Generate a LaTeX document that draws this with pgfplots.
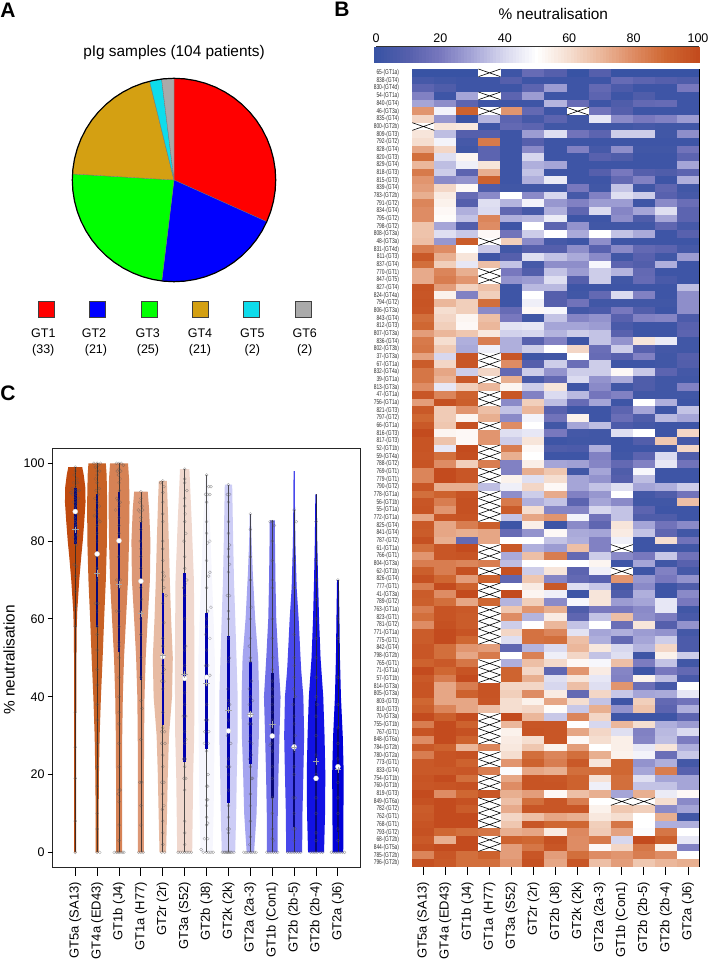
\documentclass[border=0pt]{standalone}
\usepackage{fontspec}
\setmainfont{Liberation Sans}
\newfontfamily\condfont[FakeStretch=0.70]{Liberation Sans}
\usepackage{pgfplots}
\usepackage{pgfplotstable}
\pgfplotsset{compat=1.18}
\usepgfplotslibrary{polar}

\pgfplotsset{colormap={nb}{
 rgb255(0pt)=(56,83,164) rgb255(10pt)=(85,95,172) rgb255(20pt)=(120,120,190) rgb255(30pt)=(165,165,215)
 rgb255(40pt)=(215,215,238) rgb255(50pt)=(255,255,255) rgb255(60pt)=(245,222,208) rgb255(70pt)=(235,183,155)
 rgb255(80pt)=(222,140,100) rgb255(90pt)=(207,103,50) rgb255(100pt)=(195,75,30)}}

\pgfdeclareplotmark{heatcell}{\pgfpathrectangle{\pgfpoint{-11.2pt}{-4pt}}{\pgfpoint{22.4pt}{8pt}}\pgfusepathqfill}
\pgfdeclareplotmark{barcell}{\pgfpathrectangle{\pgfpoint{-1.9pt}{-8pt}}{\pgfpoint{3.8pt}{16pt}}\pgfusepathqfill}
\pgfdeclareplotmark{nacell}{%
 \pgfpathrectangle{\pgfpoint{-11.03pt}{-3.83pt}}{\pgfpoint{22.06pt}{7.66pt}}\pgfsetfillcolor{white}\pgfusepathqfill
 \pgfsetstrokecolor{black}\pgfsetlinewidth{.6pt}
 \pgfpathmoveto{\pgfpoint{-11.03pt}{-3.83pt}}\pgfpathlineto{\pgfpoint{11.03pt}{3.83pt}}
 \pgfpathmoveto{\pgfpoint{-11.03pt}{3.83pt}}\pgfpathlineto{\pgfpoint{11.03pt}{-3.83pt}}\pgfusepathqstroke}

\definecolor{vA}{RGB}{192,74,14}
\definecolor{vB}{RGB}{200,98,38}
\definecolor{vC}{RGB}{214,130,85}
\definecolor{vD}{RGB}{221,152,118}
\definecolor{vE}{RGB}{231,187,163}
\definecolor{vF}{RGB}{240,216,206}
\definecolor{vG}{RGB}{246,246,253}
\definecolor{vH}{RGB}{205,205,246}
\definecolor{vI}{RGB}{165,165,240}
\definecolor{vJ}{RGB}{112,112,232}
\definecolor{vK}{RGB}{72,72,235}
\definecolor{vL}{RGB}{18,18,228}
\definecolor{vM}{RGB}{0,0,215}
\definecolor{barO}{RGB}{8,8,120}
\definecolor{barB}{RGB}{0,0,175}
\definecolor{pieY}{RGB}{212,160,18}
\definecolor{pieC}{RGB}{14,220,235}
\definecolor{pieG}{RGB}{170,170,170}

\pgfplotstableread[row sep=crcr]{y w\\0 0\\0 1\\36 1\\50 1.2\\58 1.5\\62 2\\70 4\\76 6\\80 7.5\\85 9\\90 10.3\\94 10\\97 8.5\\99 7\\99 0\\}\vtA
\pgfplotstableread[row sep=crcr]{y w\\0 0\\0 1.5\\10 1.5\\20 1.8\\30 2.5\\40 3.8\\50 5.5\\60 7\\70 8.7\\80 9.8\\90 10\\97 9.5\\100 8.7\\100 0\\}\vtB
\pgfplotstableread[row sep=crcr]{y w\\0 0\\0 3\\10 3\\20 3\\30 3.2\\40 3.8\\50 5\\60 7\\70 9\\80 10\\90 10.5\\96 10\\100 9\\100 0\\}\vtC
\pgfplotstableread[row sep=crcr]{y w\\0 0\\0 3\\10 3\\20 3\\30 3.2\\40 3.6\\50 4.8\\60 6.8\\70 9\\80 9.5\\88 8.2\\92.7 6.8\\92.7 0\\}\vtD
\pgfplotstableread[row sep=crcr]{y w\\0 0\\0 3.3\\10 4.2\\20 5\\30 6.2\\40 9.2\\50 10\\60 8.3\\70 7\\80 6\\90 4.8\\95.5 4\\95.5 0\\}\vtE
\pgfplotstableread[row sep=crcr]{y w\\0 0\\0 7.5\\10 8\\20 8.5\\30 9.5\\40 9.7\\50 9.8\\60 9.5\\70 9.2\\85 7\\92 5.8\\98.5 4.7\\98.5 0\\}\vtF
\pgfplotstableread[row sep=crcr]{y w\\0 0\\0 6\\10 7\\20 7.5\\30 8\\40 8.3\\50 8.2\\60 7\\70 5.5\\80 4\\90 2.5\\97 1\\97 0\\}\vtG
\pgfplotstableread[row sep=crcr]{y w\\0 0\\0 6.7\\10 7.7\\20 8.3\\30 9.2\\40 9.2\\50 8\\60 6.8\\70 5.5\\80 4.7\\90 4\\94.5 3.7\\94.5 0\\}\vtH
\pgfplotstableread[row sep=crcr]{y w\\0 0\\0 3.7\\5 5\\10 6.2\\20 7.2\\30 8.5\\40 8.8\\50 7.8\\60 4.8\\72 2.4\\80 1.2\\87 .6\\87 0\\}\vtI
\pgfplotstableread[row sep=crcr]{y w\\0 0\\0 5.3\\10 5.5\\20 6.2\\30 7.2\\40 8.3\\50 6\\60 4\\70 3.2\\80 2.7\\85.3 2.5\\85.3 0\\}\vtJ
\pgfplotstableread[row sep=crcr]{y w\\0 0\\0 8\\10 8.3\\20 9.2\\30 10\\40 9.2\\47 7\\51 6.2\\60 4.5\\68 2.5\\80 1.2\\90 .8\\98 .6\\98 0\\}\vtK
\pgfplotstableread[row sep=crcr]{y w\\0 0\\0 8\\10 9\\20 9.3\\30 8.5\\40 7.2\\50 4.5\\60 3\\70 2\\80 1.2\\92 .7\\92 0\\}\vtL
\pgfplotstableread[row sep=crcr]{y w\\0 0\\0 5.3\\10 5.5\\20 5.8\\30 4.8\\40 3\\50 2\\60 1.5\\70 .9\\70 0\\}\vtM

\newcommand\violin[3]{%
 \addplot[fill=#2,draw=none,forget plot] table[x expr=#1+\thisrow{w}/21.9,y=y]{#3} -- cycle;
 \addplot[fill=#2,draw=none,forget plot] table[x expr=#1-\thisrow{w}/21.9,y=y]{#3} -- cycle;}

\pgfplotstableread{
label c0 c1 c2 c3 c4 c5 c6 c7 c8 c9 c10 c11 c12
65-(GT1a) 0 0 0 50 2 15 10 0 10 0 0 0 0
838-(GT4) 5 3 2 2 10 2 2 2 2 15 12 10 8
830-(GT4d) 12 8 2 2 2 12 28 2 14 7 2 2 20
54-(GT1a) 22 2 30 50 12 28 2 2 12 2 8 2 2
840-(GT4) 30 25 12 2 2 2 33 15 2 8 14 15 2
46-(GT3a) 78 47 92 50 78 14 2 50 18 10 2 2 2
835-(GT4) 62 27 1 33 12 5 12 3 44 24 20 22 28
800-(GT2b) 50 58 57 2 14 12 3 3 3 3 5 3 3
809-(GT3) 58 35 10 10 2 28 42 18 12 38 38 3 25
792-(GT2) 60 47 5 85 2 10 2 2 2 2 2 2 2
828-(GT4) 74 62 3 12 2 24 2 22 5 25 3 3 18
820-(GT3) 88 42 53 12 2 40 2 2 11 8 2 2 12
829-(GT4) 70 35 46 58 2 32 30 2 2 2 2 2 30
818-(GT3) 85 38 12 72 2 36 2 2 10 20 10 8 12
815-(GT3) 78 24 26 92 2 32 45 2 2 14 22 2 32
839-(GT4) 76 62 52 8 3 3 3 20 3 36 3 13 3
783-(GT2b) 72 56 15 24 50 24 40 5 22 42 38 11 5
791-(GT2) 82 54 10 42 33 47 27 22 28 28 2 24 16
834-(GT4) 80 52 32 41 13 5 32 13 41 23 30 42 12
795-(GT2) 80 51 36 82 32 34 45 2 2 25 8 30 12
798-(GT2) 67 30 9 80 2 50 12 26 3 3 3 13 5
808-(GT3a) 67 42 37 52 18 38 50 31 50 36 31 2 11
48-(GT3a) 68 27 94 50 64 24 5 2 25 2 2 2 2
831-(GT4d) 84 80 50 37 3 10 10 25 11 24 14 12 5
811-(GT3) 95 72 58 2 10 42 36 31 24 3 11 3 28
837-(GT4) 88 64 44 68 36 5 25 25 48 12 9 32 2
770-(GT1) 73 82 72 50 20 9 36 28 38 33 14 2 2
847-(GT5) 73 84 78 50 26 28 42 10 38 3 15 6 2
827-(GT4) 97 76 63 68 2 34 34 2 2 2 2 2 35
824-(GT4a) 96 54 22 64 2 50 10 3 14 41 22 2 25
794-(GT2) 97 70 64 88 2 46 10 18 3 3 3 3 25
806-(GT3a) 96 60 64 24 15 52 48 4 7 20 9 2 25
843-(GT4) 88 62 53 68 20 3 36 23 26 11 22 23 7
812-(GT3) 90 64 52 70 43 44 30 30 28 6 2 2 11
807-(GT3a) 76 70 66 57 39 40 33 38 36 11 2 2 12
836-(GT4) 85 60 32 84 32 11 22 2 36 26 58 45 3
802-(GT3b) 86 65 31 46 32 38 50 62 16 38 11 4 3
37-(GT3a) 75 40 96 50 96 2 3 50 15 11 22 3 10
67-(GT1a) 94 62 96 50 80 10 38 16 38 2 2 3 9
832-(GT4a) 86 74 38 62 14 38 26 38 38 52 37 12 4
39-(GT1a) 86 71 95 50 72 6 14 41 26 31 8 3 3
813-(GT3a) 80 44 64 70 53 38 58 2 24 3 8 3 22
47-(GT1a) 96 82 92 50 96 22 41 34 19 22 3 3 3
756-(GT1a) 76 98 93 50 24 64 35 15 30 2 50 32 2
821-(GT3) 95 65 78 68 36 70 11 2 2 12 30 2 36
797-(GT2) 90 65 53 72 24 47 18 54 2 16 8 34 30
66-(GT1a) 95 66 98 50 80 50 3 30 35 7 4 2 2
816-(GT3) 100 53 52 78 42 44 20 4 3 42 50 2 62
817-(GT3) 97 67 52 78 38 58 2 3 3 2 9 66 5
52-(GT1b) 97 44 100 50 84 52 8 7 32 2 2 2 62
59-(GT4a) 96 88 99 50 72 50 2 2 22 3 12 41 8
788-(GT2) 97 80 64 84 22 55 30 29 23 14 22 44 18
769-(GT1) 82 100 96 50 22 72 66 3 30 8 48 2 2
779-(GT1) 82 100 96 50 54 42 60 30 26 10 35 2 2
790-(GT2) 96 72 72 35 46 62 52 30 36 42 30 32 38
778-(GT1a) 88 92 97 50 25 38 73 22 27 50 4 8 18
56-(GT1b) 96 84 98 50 85 32 36 12 30 24 3 3 68
55-(GT1a) 97 78 98 50 94 60 23 23 40 36 12 2 2
772-(GT1a) 74 96 97 50 36 74 78 47 18 36 8 8 2
825-(GT4) 95 74 84 93 2 55 2 24 13 58 30 18 24
841-(GT4) 94 74 72 74 15 26 52 31 30 56 36 13 3
787-(GT2) 98 72 14 74 50 50 36 32 22 46 2 60 18
61-(GT1a) 88 96 100 50 95 32 28 68 22 50 2 2 3
766-(GT1) 78 96 97 50 31 68 84 14 38 24 20 37 18
804-(GT3a) 84 84 82 84 35 50 50 50 53 2 30 3 11
62-(GT1b) 93 84 98 50 98 38 58 12 46 50 2 22 5
826-(GT4) 98 90 76 92 13 66 23 14 11 78 27 20 26
777-(GT1) 84 100 92 50 50 56 95 42 37 4 24 2 8
41-(GT3a) 94 80 100 50 100 53 46 2 58 8 32 2 24
789-(GT2) 93 88 74 90 33 64 24 48 58 28 30 44 20
763-(GT1a) 84 97 95 50 66 78 72 8 20 20 24 44 3
823-(GT1) 88 97 94 50 80 33 56 13 36 68 25 21 6
781-(GT2) 80 98 94 50 38 50 70 36 50 16 58 10 26
771-(GT1a) 94 100 97 50 62 87 82 43 30 32 28 26 4
775-(GT1) 94 100 90 50 42 87 88 68 32 14 30 38 7
842-(GT4) 96 88 78 76 13 33 41 70 57 40 33 62 7
798-(GT2b) 96 88 74 85 50 83 46 62 36 42 2 54 38
765-(GT1) 92 95 86 50 32 68 61 52 48 68 21 36 3
71-(GT1a) 100 90 97 50 91 62 13 78 56 23 2 20 14
57-(GT1b) 95 84 100 50 91 72 42 58 44 22 54 35 6
814-(GT3a) 97 74 84 97 62 62 40 68 42 78 16 5 50
805-(GT3a) 97 74 92 97 64 80 56 14 62 37 30 31 44
803-(GT3) 90 74 74 96 60 54 74 60 36 2 64 14 18
810-(GT3) 93 82 74 68 60 62 51 37 72 26 67 12 32
70-(GT3a) 100 93 100 50 100 70 37 82 62 2 2 2 12
755-(GT1b) 84 100 92 50 70 96 96 50 40 70 60 32 28
767-(GT1) 97 100 98 50 54 97 96 74 62 42 22 34 41
848-(GT6a) 80 100 92 50 56 60 96 52 60 55 23 35 21
784-(GT2b) 95 92 70 82 57 66 54 76 50 55 44 58 32
780-(GT2a) 84 97 98 50 60 88 82 88 72 54 47 16 37
773-(GT1) 95 97 92 50 78 92 84 95 58 90 26 32 4
833-(GT4) 95 95 96 84 49 74 72 88 88 90 30 84 11
754-(GT1b) 97 100 88 50 74 97 96 92 59 88 42 30 30
760-(GT1b) 96 97 98 50 80 97 97 92 46 88 36 36 30
819-(GT3) 100 80 90 96 72 76 52 68 72 30 72 45 52
849-(GT6a) 98 100 98 50 68 88 96 84 50 50 50 60 24
782-(GT2) 94 100 94 50 73 96 96 96 54 66 64 24 30
762-(GT1) 95 100 100 50 62 68 74 72 57 60 50 72 3
768-(GT1) 97 100 100 50 66 96 90 90 64 86 50 32 32
793-(GT2) 98 90 88 86 72 74 56 81 65 75 49 86 50
68-(GT2b) 95 72 100 50 92 90 98 80 85 40 100 93 44
844-(GT5a) 98 100 100 50 76 86 96 80 52 62 86 54 22
785-(GT2b) 82 96 88 92 76 96 76 88 80 78 84 80 50
796-(GT2b) 98 95 88 88 78 98 74 96 68 76 66 70 72
}\heat

\begin{document}
\begin{tikzpicture}
\useasboundingbox (0,0) rectangle (708pt,959pt);
\def\Fs{\fontsize{12.5}{14}\selectfont}
\def\Fr{\fontsize{13}{14}\selectfont}

% Panel letters and free text
\node[font=\bfseries\fontsize{21}{21}\selectfont] at (8pt,949pt) {A};
\node[font=\bfseries\fontsize{21}{21}\selectfont] at (342pt,950pt) {B};
\node[font=\bfseries\fontsize{21}{21}\selectfont] at (8pt,566pt) {C};
\node[font=\fontsize{15.4}{16}\selectfont] at (174pt,906.7pt) {pIg samples (104 patients)};
\node[font=\fontsize{15.4}{16}\selectfont] at (553.3pt,945pt) {\% neutralisation};
\node[font=\fontsize{15.4}{16}\selectfont,rotate=90] at (9pt,299pt) {\% neutralisation};

% A: pie
\begin{axis}[at={(72.3pt,677.3pt)},anchor=south west,scale only axis,width=203.4pt,height=203.4pt,
  hide axis,xmin=-1,xmax=1,ymin=-1,ymax=1,clip=false]
\addplot[data cs=polar,fill=red,draw=black!55,line width=.3pt] coordinates {(0,0)(90,1)(84,1)(78,1)(72,1)(66,1)(60,1)(54,1)(48,1)(42,1)(36,1)(30,1)(24,1)(18,1)(12,1)(6,1)(0,1)(-6,1)(-12,1)(-18,1)(-24.2,1)} -- cycle;
\addplot[data cs=polar,fill=blue,draw=black!55,line width=.3pt] coordinates {(0,0)(-24.2,1)(-30,1)(-36,1)(-42,1)(-48,1)(-54,1)(-60,1)(-66,1)(-72,1)(-78,1)(-84,1)(-90,1)(-96.9,1)} -- cycle;
\addplot[data cs=polar,fill=green,draw=black!55,line width=.3pt] coordinates {(0,0)(-96.9,1)(-102,1)(-108,1)(-114,1)(-120,1)(-126,1)(-132,1)(-138,1)(-144,1)(-150,1)(-156,1)(-162,1)(-168,1)(-174,1)(-180,1)(-183.4,1)} -- cycle;
\addplot[data cs=polar,fill=pieY,draw=black!55,line width=.3pt] coordinates {(0,0)(-183.4,1)(-186,1)(-192,1)(-198,1)(-204,1)(-210,1)(-216,1)(-222,1)(-228,1)(-234,1)(-240,1)(-246,1)(-252,1)(-256.1,1)} -- cycle;
\addplot[data cs=polar,fill=pieC,draw=black!55,line width=.3pt] coordinates {(0,0)(-256.1,1)(-260,1)(-263,1)} -- cycle;
\addplot[data cs=polar,fill=pieG,draw=black!55,line width=.3pt] coordinates {(0,0)(-263,1)(-267,1)(-270,1)} -- cycle;
\addplot[data cs=polar,draw=black,line width=1.2pt] coordinates {(90,1)(84,1)(78,1)(72,1)(66,1)(60,1)(54,1)(48,1)(42,1)(36,1)(30,1)(24,1)(18,1)(12,1)(6,1)(0,1)(-6,1)(-12,1)(-18,1)(-24,1)(-30,1)(-36,1)(-42,1)(-48,1)(-54,1)(-60,1)(-66,1)(-72,1)(-78,1)(-84,1)(-90,1)(-96,1)(-102,1)(-108,1)(-114,1)(-120,1)(-126,1)(-132,1)(-138,1)(-144,1)(-150,1)(-156,1)(-162,1)(-168,1)(-174,1)(-180,1)(-186,1)(-192,1)(-198,1)(-204,1)(-210,1)(-216,1)(-222,1)(-228,1)(-234,1)(-240,1)(-246,1)(-252,1)(-258,1)(-264,1)(-270,1)};
\end{axis}

% A: legend keys
\begin{axis}[at={(0pt,640pt)},anchor=south west,scale only axis,width=359.8pt,height=20pt,
  hide axis,xmin=0,xmax=7,ymin=0,ymax=1,clip=false]
\addplot[only marks,mark=square*,mark size=8pt,mark options={fill=red,draw=black!75,line width=.8pt}] coordinates {(0.9,.5)};
\addplot[only marks,mark=square*,mark size=8pt,mark options={fill=blue,draw=black!75,line width=.8pt}] coordinates {(1.9,.5)};
\addplot[only marks,mark=square*,mark size=8pt,mark options={fill=green,draw=black!75,line width=.8pt}] coordinates {(2.9,.5)};
\addplot[only marks,mark=square*,mark size=8pt,mark options={fill=pieY,draw=black!75,line width=.8pt}] coordinates {(3.9,.5)};
\addplot[only marks,mark=square*,mark size=8pt,mark options={fill=pieC,draw=black!75,line width=.8pt}] coordinates {(4.9,.5)};
\addplot[only marks,mark=square*,mark size=8pt,mark options={fill=pieG,draw=black!75,line width=.8pt}] coordinates {(5.9,.5)};
\end{axis}
\foreach \x/\a/\b/\xb in {43.3/GT1/(33)/43.3,94/GT2/(21)/96,147.7/GT3/(25)/148,200/GT4/(21)/200,252.3/GT5/(2)/252.3,304.7/GT6/(2)/304.7}{
 \node[font=\Fs] at (\x pt,626pt) {\a};
 \node[font=\Fs] at (\xb pt,609pt) {\b};
}

% B: colour bar
\begin{axis}[at={(376pt,896.3pt)},anchor=south west,scale only axis,width=322pt,height=16pt,
  xmin=0,xmax=100,ymin=0,ymax=1,ytick=\empty,colormap name=nb,point meta min=0,point meta max=100,
  xtick={0,20,40,60,80,100},xtick pos=both,xticklabel pos=upper,tick align=inside,major tick length=4pt,
  xtick style={black,line width=.9pt},axis line style={black!80,line width=.9pt},axis on top,
  /pgf/number format/assume math mode=true,tick label style={font=\Fs,inner sep=1pt},xticklabel shift=2.5pt]
\addplot[scatter,only marks,mark=barcell,point meta=x,scatter/use mapped color={draw=none,fill=mapped color}] coordinates {(0,.5)(1,.5)(2,.5)(3,.5)(4,.5)(5,.5)(6,.5)(7,.5)(8,.5)(9,.5)(10,.5)(11,.5)(12,.5)(13,.5)(14,.5)(15,.5)(16,.5)(17,.5)(18,.5)(19,.5)(20,.5)(21,.5)(22,.5)(23,.5)(24,.5)(25,.5)(26,.5)(27,.5)(28,.5)(29,.5)(30,.5)(31,.5)(32,.5)(33,.5)(34,.5)(35,.5)(36,.5)(37,.5)(38,.5)(39,.5)(40,.5)(41,.5)(42,.5)(43,.5)(44,.5)(45,.5)(46,.5)(47,.5)(48,.5)(49,.5)(50,.5)(51,.5)(52,.5)(53,.5)(54,.5)(55,.5)(56,.5)(57,.5)(58,.5)(59,.5)(60,.5)(61,.5)(62,.5)(63,.5)(64,.5)(65,.5)(66,.5)(67,.5)(68,.5)(69,.5)(70,.5)(71,.5)(72,.5)(73,.5)(74,.5)(75,.5)(76,.5)(77,.5)(78,.5)(79,.5)(80,.5)(81,.5)(82,.5)(83,.5)(84,.5)(85,.5)(86,.5)(87,.5)(88,.5)(89,.5)(90,.5)(91,.5)(92,.5)(93,.5)(94,.5)(95,.5)(96,.5)(97,.5)(98,.5)(99,.5)(100,.5)};
\end{axis}

% B: heat map
\begin{axis}[at={(412.3pt,92.3pt)},anchor=south west,scale only axis,width=286.7pt,height=797.7pt,
  xmin=-.5,xmax=12.5,ymin=-.5,ymax=103.5,y dir=reverse,colormap name=nb,point meta min=0,point meta max=100,
  axis on top,axis line style={black,line width=1pt},
  xtick={0,...,12},xticklabels={GT5a (SA13),GT4a (ED43),GT1b (J4),GT1a (H77),GT3a (S52),GT2r (2r),GT2b (J8),GT2k (2k),GT2a (2a-3),GT1b (Con1),GT2b (2b-5),GT2b (2b-4),GT2a (J6)},
  xtick pos=lower,tick align=outside,
  xticklabel style={rotate=90,anchor=east,font=\Fr,inner sep=0pt},xticklabel shift=7pt,
  ytick={0,...,103},yticklabels from table={\heat}{label},ytick pos=left,
  yticklabel style={font=\condfont\fontsize{7}{7}\selectfont,inner sep=0pt,text=black!80},yticklabel shift=5pt,
  major tick length=8pt,xtick style={black,line width=.9pt},ytick style={draw=none}]
\pgfplotsinvokeforeach{0,...,12}{
 \addplot[scatter,only marks,mark=heatcell,point meta=explicit,scatter/use mapped color={draw=none,fill=mapped color}]
   table[x expr=#1,y expr=\coordindex,meta=c#1]{\heat};
}
\addplot[only marks,mark=nacell] coordinates {(3,0)(3,3)(3,5)(3,22)(3,26)(3,27)(3,37)(3,38)(3,40)(3,42)(3,43)(3,46)(3,49)(3,50)(3,52)(3,53)(3,55)(3,56)(3,57)(3,58)(3,62)(3,63)(3,65)(3,67)(3,68)(3,70)(3,71)(3,72)(3,73)(3,74)(3,77)(3,78)(3,79)(3,84)(3,85)(3,86)(3,87)(3,89)(3,90)(3,92)(3,93)(3,95)(3,96)(3,97)(3,98)(3,100)(3,101)(7,5)(0,7)(9,62)(9,65)(9,95)(10,95)};
\end{axis}

% C: violins
\begin{axis}[at={(52.7pt,91.3pt)},anchor=south west,scale only axis,width=308pt,height=419.4pt,
  xmin=-.03,xmax=14.04,ymin=-3.96,ymax=103.86,clip=false,
  axis line style={black!85,line width=1pt},
  xtick={1,...,13},xticklabels={GT5a (SA13),GT4a (ED43),GT1b (J4),GT1a (H77),GT2r (2r),GT3a (S52),GT2b (J8),GT2k (2k),GT2a (2a-3),GT1b (Con1),GT2b (2b-5),GT2b (2b-4),GT2a (J6)},
  xtick pos=lower,tick align=outside,ytick=\empty,
  xticklabel style={rotate=90,anchor=east,font=\Fr,inner sep=0pt},xticklabel shift=6pt,
  major tick length=8pt,xtick style={black,line width=.9pt},every axis plot/.append style={forget plot}]
\violin{1}{vA}{\vtA}\violin{2}{vB}{\vtB}\violin{3}{vC}{\vtC}\violin{4}{vD}{\vtD}\violin{5}{vE}{\vtE}
\violin{6}{vF}{\vtF}\violin{7}{vG}{\vtG}\violin{8}{vH}{\vtH}\violin{9}{vI}{\vtI}\violin{10}{vJ}{\vtJ}
\violin{11}{vK}{\vtK}\violin{12}{vL}{\vtL}\violin{13}{vM}{\vtM}
% whiskers
\pgfplotsset{whisk/.style={black!85,line width=.7pt,opacity=.8}}
\addplot[whisk] coordinates {(1,0)(1,99)};\addplot[whisk] coordinates {(2,0)(2,100)};\addplot[whisk] coordinates {(3,0)(3,100)};
\addplot[whisk] coordinates {(4,0)(4,92.7)};\addplot[whisk] coordinates {(5,0)(5,95.5)};\addplot[whisk] coordinates {(6,0)(6,98.5)};
\addplot[whisk] coordinates {(7,0)(7,97)};\addplot[whisk] coordinates {(8,0)(8,94.5)};\addplot[whisk] coordinates {(9,0)(9,87)};
\addplot[whisk] coordinates {(10,0)(10,85.3)};\addplot[whisk] coordinates {(11,0)(11,88)};\addplot[whisk] coordinates {(12,0)(12,92)};\addplot[whisk] coordinates {(13,0)(13,70)};
% interquartile bars
\pgfplotsset{iqrO/.style={barO,line width=2.6pt},iqrB/.style={barB,line width=2.6pt}}
\addplot[iqrO] coordinates {(1,79.3)(1,93.6)};\addplot[iqrO] coordinates {(2,57.8)(2,92.1)};\addplot[iqrO] coordinates {(3,51.6)(3,92.7)};
\addplot[iqrO] coordinates {(4,44.3)(4,85)};\addplot[iqrB] coordinates {(5,32.7)(5,66.6)};\addplot[iqrB] coordinates {(6,23.3)(6,71.7)};
\addplot[iqrB] coordinates {(7,26.5)(7,61.6)};\addplot[iqrB] coordinates {(8,12.8)(8,55.6)};\addplot[iqrB] coordinates {(9,22.7)(9,49)};
\addplot[iqrO] coordinates {(10,13.9)(10,46)};\addplot[iqrO] coordinates {(11,6.6)(11,39.6)};\addplot[iqrO] coordinates {(12,0)(12,39)};\addplot[iqrO] coordinates {(13,5.3)(13,32)};
% individual sera
\addplot[only marks,mark=o,mark size=1.5pt,mark options={draw=black!65,line width=.3pt,opacity=.6}] coordinates {
(1,99)(1,98)(.95,97)(1.08,96)(.92,95)(1.1,95)(1,94)(.85,93.5)(.93,93)(1.08,93)(1.18,93)(.8,92.5)(.88,92)(1.05,92)(1.15,91)(.98,91)(.92,90)(1.08,90)(1,89)(1,88)(1.1,87)(.95,86)(1,85)(1.05,84)(.98,83)(1.1,81.5)(.92,81)(1,80)(1.05,79)(.95,74)(1.05,73.5)(1,71)(1,67)(1,63)(1,58)(1,36)(1,27)(1,19)(1,8)(1,0)
(2,100)(1.85,100)(2.15,100)(2.05,99.5)(1.92,99)(2,98)(2.12,98)(2,97)(1.92,96)(2,95)(2.1,93.5)(1.95,93)(2.05,92)(1.9,91)(2,90)(2.1,89)(1.95,88)(2,87)(1.87,86.5)(2.05,85.5)(2.13,85)(2,84)(2,82)(2,80)(2.03,77)(1.97,76)(2,73)(2,70)(1.92,64)(2.05,64)(2,62)(2,58)(2,56)(2,52)(2,47)(2,43)(2,38)(2,34)(2,28)(2,22)(2,17)(2,10)(2,6)(2,0)(2.12,0)
(3,100)(2.88,100)(3.1,100)(3.2,99.5)(3,98.5)(2.92,98)(3.08,98)(2.97,97)(3.05,96)(3,95)(3.02,93)(2.9,91)(2.96,90.5)(3.05,90)(3,89)(2.85,88)(3,86)(3,84)(3,82)(3,80)(2.98,76)(2.9,70)(3.05,70)(3,68)(2.88,62)(3,62)(3,58)(3,54)(3,53)(3,50)(3,45)(3,40)(3,36)(3,33)(3,28)(3,22)(3,16)(3.05,16)(2.97,15)(3,13)(3,7)(3,3)(2.78,0)(2.88,0)(2.96,0)(3.04,0)(3.14,0)(3.22,0)
(4,92.7)(4,91)(3.95,90)(4.05,89)(4,86)(3.88,88)(3.96,87.5)(4.08,88)(4,85)(4,83)(3.97,80)(4,78)(4,76)(4,73)(4,70)(4,68)(4.03,65)(4,62)(4,60)(4,56)(4,50)(4,45)(4,39)(4.05,37)(4,29)(3.95,18)(4.03,18)(4,12)(4,7)(3.9,0)(4,0)(4.1,0)
(5,95.5)(4.9,95)(5.05,94)(5,92.5)(5,90)(5,87)(5,85)(5,80)(5,78)(5,75)(5,72)(5.07,71)(5,70)(5.05,68)(5.15,66)(5,64)(5.05,59)(5,55)(5,53)(5,50)(5,48)(5.06,47)(5,46)(4.95,44)(5.05,44)(5,42)(5,36)(5,32)(4.95,31)(5.08,31)(4.95,28)(5.1,28)(5,25)(5,22)(4.95,18)(5.05,18)(5,15)(5.05,12)(4.98,11)(5,8)(5,5)(5,2)(4.95,0)(5.08,0)
(6,98.5)(6,96)(6,95)(6.1,93)(6,91)(6,89)(6.02,87)(6,85)(6.05,82)(5.97,80)(6,76)(6,73)(6.1,70)(6.02,69)(5.95,68)(6,66)(6,60)(6.05,53)(6,52)(6,48)(6,46)(6,41)(6,38)(5.93,35)(6.05,35)(6,31)(6.05,29)(6,28)(5.95,24)(6.02,24)(6,22)(6.05,19)(5.97,19)(6,16)(6,8)(6,5)(6,2)(6,0)(5.7,0)(5.8,0)(5.9,0)(6.1,0)(6.2,0)(6.3,0)
(7,97)(7.1,94)(7.2,94)(7.15,92)(6.95,92)(7.05,92)(7,90)(7,85)(7,82)(7.15,80)(7.05,79.5)(7,75)(7.15,72)(7.1,71)(7,68)(7.2,63)(7.05,62)(7,60)(7,58)(6.95,56)(7.15,55)(7,52)(7.05,48)(6.95,48)(7.05,45)(7.15,45.5)(7,43)(7,38)(6.95,34)(7.05,34)(6.92,31)(7.1,31)(6.9,28)(7.07,28)(7,26)(7.07,20)(7,17)(7.05,17)(7,13.5)(7.05,13.5)(7,12)(7,9)(7.05,7.5)(7,7)(6.9,3.5)(7.05,3.5)(6.75,.7)(6.85,0)(7,0)(7.1,0)(7.2,0)(7.3,0)
(8,94.5)(7.95,92)(8.05,92)(8,90)(8,85)(8,82)(8.05,79)(8,78)(8,76)(8.05,74)(8,72)(7.95,66)(8.05,66)(8,62)(8,60)(8,55)(8.05,50)(8,49)(7.97,42)(8,39)(8.05,38)(8,36.5)(8,34)(8.03,31)(7.95,30)(8.1,28)(8,24)(7.95,22)(8.05,22)(8,20)(8,16)(8,12)(8,9)(7.97,6)(8.03,6)(8,5)(8,0)(7.72,0)(7.8,0)(7.85,0)(7.9,0)(7.95,0)(8.05,0)(8.1,0)(8.15,0)(8.25,0)
(9,87)(9,83)(9,76)(9,70)(9.03,63)(9,60)(9,55)(8.95,53)(9,50)(9,49)(9.05,44)(8.95,42)(9,40)(9.1,39)(8.95,38)(9,36)(9.05,33)(8.95,33)(9,30)(8.97,28.5)(9.07,28)(9,26)(9.05,25)(8.95,24)(9,22)(9.1,19)(9.05,19)(9,15)(9,12)(9,8)(9,4)(8.97,2)(8.7,0)(8.8,0)(8.9,0)(9,0)(9.08,0)(9.18,0)(9.26,0)
(10,85)(9.9,85)(10.1,84)(10,80)(10,75)(10,70)(10,68)(10,60)(10,55)(10.03,50)(10,47)(10,44)(10,42)(10,40)(10,38)(10,36)(10,34)(9.97,32)(10.03,30)(9.95,28)(9.9,27.5)(10,26)(10,22)(10,19)(10,14)(10,10)(10,6)(10,3.5)(10.05,3)(9.75,0)(9.85,0)(9.95,0)(10.05,0)(10.15,0)(10.25,0)
(11,88)(11.1,85)(11,75)(11,68)(11,62)(11,56)(11,50)(11,48)(11,45)(10.98,42)(11.05,40)(10.95,38)(11,35)(11,33)(11.05,30)(11,28)(11,26)(11,22)(11,20)(10.95,14)(11.05,14)(11,10)(10.95,6)(11.05,6)(11,3)(10.7,0)(10.8,0)(10.9,0)(11,0)(11.1,0)(11.2,0)(11.3,0)
(12,85)(12,75)(12,70)(12,65)(12,60)(12,55)(12,50)(12,45)(12,40)(12.05,38)(12,35)(12,30)(12,25)(12,20)(12,14)(12,10)(12,5)(12,3)(11.75,0)(11.85,0)(11.95,0)(12.05,0)(12.2,0)(12.3,0)
(13,70)(13,60)(13,55)(13,45)(13,38)(13,32)(13,28)(13,24)(13,22)(13,18)(13,14)(13,10)(13,6)(13,3)(12.7,0)(12.8,0)(12.9,0)(13,0)(13.1,0)(13.2,0)(13.3,0)};
% medians
\addplot[only marks,mark=*,mark size=2.5pt,mark options={fill=white,draw=white!85!black,line width=.3pt}] coordinates {(1,87.6)(2,76.7)(3,80.1)(4,69.7)(5,50.3)(6,44.7)(7,45)(8,31.2)(9,35.3)(10,29.9)(11,27.1)(12,19)(13,22)};
% means
\addplot[only marks,mark=+,mark size=3.3pt,mark options={draw=black!35,line width=.8pt}] coordinates {(1,82.9)(2,71.7)(3,68.9)(4,61.3)(5,50.5)(6,45.7)(7,43.5)(8,36.6)(9,35.4)(10,32.9)(11,27)(12,23.3)(13,21.2)};
\end{axis}
% C: y ticks
\begin{axis}[at={(52.7pt,91.3pt)},anchor=south west,scale only axis,width=308pt,height=419.4pt,
  xmin=-.03,xmax=14.04,ymin=-3.96,ymax=103.86,
  axis line style={draw=none},xtick=\empty,ytick={0,20,40,60,80,100},ytick pos=left,tick align=outside,
  major tick length=5pt,ytick style={black,line width=.9pt},
  /pgf/number format/assume math mode=true,yticklabel style={font=\Fs,inner sep=0pt},yticklabel shift=3pt]
\end{axis}
\end{tikzpicture}
\end{document}
